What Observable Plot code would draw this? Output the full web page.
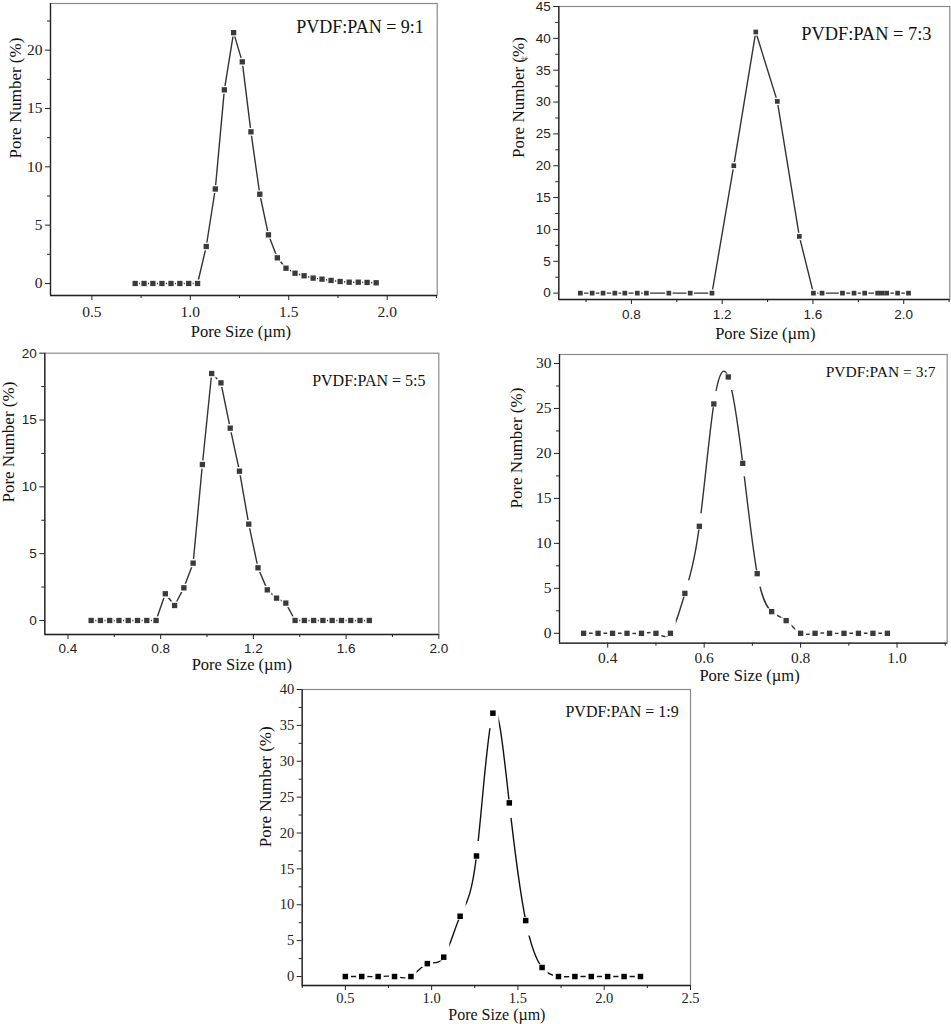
<!DOCTYPE html>
<html><head><meta charset="utf-8">
<script src="https://cdn.jsdelivr.net/npm/d3@7"></script>
<script src="https://cdn.jsdelivr.net/npm/@observablehq/plot@0.6"></script>
<style>
body{margin:0;background:#fff}
#wrap{position:relative;width:951px;height:1024px;overflow:hidden;background:#fff}
#wrap svg{position:absolute;overflow:visible;max-width:none}
</style>
</head><body><div id="wrap"></div>
<script>
const serif = "'Liberation Serif','Times New Roman',serif";
const sans = "'Liberation Sans',Arial,sans-serif";

// ---- data (pore size in µm, pore number in %) ----
const labels = ["PVDF:PAN = 9:1", "PVDF:PAN = 7:3", "PVDF:PAN = 5:5", "PVDF:PAN = 3:7", "PVDF:PAN = 1:9"];
const xTitle = "Pore Size (µm)";
const yTitle = "Pore Number (%)";

const p1Size = [0.72,0.765,0.81,0.856,0.902,0.947,0.992,1.037,1.081,1.127,1.173,1.22,1.264,1.308,1.353,1.397,1.442,1.486,1.532,1.578,1.624,1.669,1.715,1.761,1.807,1.853,1.898,1.944];
const p1Number = [0,0,0,0,0,0,0,0,3.17,8.1,16.6,21.5,19.0,13.0,7.65,4.17,2.2,1.31,0.88,0.66,0.46,0.37,0.26,0.17,0.11,0.11,0.09,0.06];

const p2Size = [0.575,0.627,0.675,0.727,0.771,0.826,0.866,0.965,1.059,1.155,1.251,1.348,1.443,1.540,1.602,1.640,1.730,1.781,1.828,1.885,1.905,1.925,1.973,2.021];
const p2Number = [0,0,0,0,0,0,0,0,0,0,20.0,41.0,30.1,8.9,0,0,0,0,0,0,0,0,0,0];

const p3Size = [0.50,0.54,0.58,0.62,0.66,0.70,0.74,0.78,0.82,0.86,0.90,0.94,0.98,1.02,1.06,1.10,1.14,1.18,1.22,1.26,1.30,1.34,1.38,1.42,1.46,1.50,1.54,1.58,1.62,1.66,1.70];
const p3Number = [0,0,0,0,0,0,0,0,2.0,1.12,2.44,4.29,11.67,18.48,17.78,14.39,11.17,7.21,3.94,2.29,1.67,1.30,0,0,0,0,0,0,0,0,0];

const p4Size = [0.35,0.38,0.41,0.44,0.47,0.50,0.53,0.56,0.59,0.62,0.65,0.68,0.71,0.74,0.77,0.80,0.83,0.86,0.89,0.92,0.95,0.98];
const p4Number = [0,0,0,0,0,0,0,4.44,11.9,25.5,28.5,18.9,6.63,2.41,1.41,0,0,0,0,0,0,0];

const p5Size = [0.50,0.595,0.69,0.785,0.88,0.975,1.07,1.165,1.26,1.355,1.45,1.545,1.64,1.735,1.83,1.925,2.02,2.115,2.21];
const p5Number = [0,0,0,0,0,1.8,2.7,8.4,16.8,36.7,24.2,7.8,1.26,0,0,0,0,0,0];

// ---- tick values ----
const p1XMajor = [0.5,1.0,1.5,2.0], p1XMinor = [0.75,1.25,1.75,2.25];
const p1YMajor = [0,5,10,15,20], p1YMinor = [2.5,7.5,12.5,17.5,22.5];
const p2XMajor = [0.8,1.2,1.6,2.0], p2XMinor = [0.6,1.0,1.4,1.8,2.2];
const p2YMajor = [0,5,10,15,20,25,30,35,40,45], p2YMinor = [2.5,7.5,12.5,17.5,22.5,27.5,32.5,37.5,42.5];
const p3XMajor = [0.4,0.8,1.2,1.6,2.0], p3XMinor = [0.6,1.0,1.4,1.8];
const p3YMajor = [0,5,10,15,20], p3YMinor = [2.5,7.5,12.5,17.5];
const p4XMajor = [0.4,0.6,0.8,1.0], p4XMinor = [0.5,0.7,0.9,1.1];
const p4YMajor = [0,5,10,15,20,25,30], p4YMinor = [2.5,7.5,12.5,17.5,22.5,27.5];
const p5XMajor = [0.5,1.0,1.5,2.0,2.5], p5XMinor = [0.25,0.75,1.25,1.75,2.25];
const p5YMajor = [0,5,10,15,20,25,30,35,40], p5YMinor = [2.5,7.5,12.5,17.5,22.5,27.5,32.5,37.5];

// white "gap to symbol" shapes (Origin style): symmetric, or extended along the path after the marker
function rectSymbol(x0, x1, y0, y1) {
  return {draw(ctx) { ctx.moveTo(x0, y0); ctx.lineTo(x1, y0); ctx.lineTo(x1, y1); ctx.lineTo(x0, y1); ctx.closePath(); }};
}

function panel(o) {
  const data = o.size.map((x, i) => ({x, y: o.number[i], next: i + 1 < o.number.length ? o.number[i + 1] : o.number[i]}));
  const axisCol = "#222";
  const h = o.halo, t = o.tail || h;
  const flat = data.filter(d => !o.tail || Math.abs(d.next - d.y) < 0.05);
  const up = o.tail ? data.filter(d => d.next - d.y >= 0.05) : [];
  const down = o.tail ? data.filter(d => d.y - d.next >= 0.05) : [];
  const marks = [
    Plot.frame({stroke: "#8a8a8a", strokeWidth: 1.2}),
    Plot.ruleX([o.xDomain[0]], {stroke: axisCol, strokeWidth: 1.3}),
    Plot.ruleY([o.yDomain[0]], {stroke: axisCol, strokeWidth: 1.3}),
    Plot.axisX(o.xMajor, {anchor: "bottom", tickSize: 5, tickPadding: o.xPad, tickFormat: d3.format(".1f"),
      fontSize: o.tickSize, fontFamily: o.tickFamily, fill: axisCol, stroke: axisCol, label: null}),
    Plot.axisX(o.xMinor, {anchor: "bottom", tickSize: 3, fill: "none", stroke: axisCol, label: null}),
    Plot.axisY(o.yMajor, {anchor: "left", tickSize: 5, tickPadding: 3, tickFormat: d3.format("d"),
      fontSize: o.tickSize, fontFamily: o.tickFamily, fill: axisCol, stroke: axisCol, label: null}),
    Plot.axisY(o.yMinor, {anchor: "left", tickSize: 3, fill: "none", stroke: axisCol, label: null}),
    Plot.line(data, {x: "x", y: "y", stroke: o.lineColor, strokeWidth: 1.4, curve: o.curve}),
    Plot.dot(flat, {x: "x", y: "y", symbol: rectSymbol(-h, h, -h, h), fill: "white", stroke: "none"}),
    Plot.dot(up, {x: "x", y: "y", symbol: rectSymbol(-h, h, -t, h * 0.6), fill: "white", stroke: "none"}),
    Plot.dot(down, {x: "x", y: "y", symbol: rectSymbol(-h, h, -h * 0.6, t), fill: "white", stroke: "none"}),
    Plot.dot(data, {x: "x", y: "y", symbol: "square", r: o.r, fill: o.markColor, stroke: "none"}),
    Plot.text([o.label], {text: d => d, frameAnchor: "top-right", textAnchor: "end", lineAnchor: "bottom",
      dx: o.labelDx, dy: o.labelDy, fontSize: o.labelSize, fontFamily: serif, fill: "#111"}),
    Plot.text([xTitle], {text: d => d, frameAnchor: "bottom", lineAnchor: "middle",
      dx: o.xtDx, dy: o.xtDy, fontSize: o.xtSize || 16.5, fontFamily: serif, fill: "#111"}),
    Plot.text([yTitle], {text: d => d, frameAnchor: "left", lineAnchor: "middle", rotate: -90,
      dx: o.ytDx, dy: o.ytDy, fontSize: 17, fontFamily: serif, fill: "#111"})
  ];
  if (o.extra) marks.push(o.extra);
  const svg = Plot.plot({
    width: o.w, height: o.h,
    marginLeft: o.ml, marginRight: o.mr, marginTop: o.mt, marginBottom: o.mb,
    x: {domain: o.xDomain, label: null},
    y: {domain: o.yDomain, label: null},
    style: {background: "transparent", overflow: "visible"},
    marks
  });
  svg.style.left = o.left + "px";
  svg.style.top = o.top + "px";
  document.getElementById("wrap").appendChild(svg);
}

// Panel 1: 9:1
panel({size: p1Size, number: p1Number, label: labels[0],
  left: 0, top: 0, w: 475, h: 340, ml: 50, mr: 38.3, mt: 3, mb: 45,
  xDomain: [0.29, 2.254], yDomain: [-1.03, 24],
  xMajor: p1XMajor, xMinor: p1XMinor, yMajor: p1YMajor, yMinor: p1YMinor,
  tickSize: 15.5, tickFamily: serif, xPad: 5,
  lineColor: "#333", markColor: "#3a3a3a", curve: "linear", r: 3, halo: 3.9,
  labelDx: -13.4, labelDy: 29, labelSize: 18,
  xtDx: -3, xtDy: 36, ytDx: -35, ytDy: 9});

// Panel 2: 7:3
panel({size: p2Size, number: p2Number, label: labels[1],
  left: 505, top: 0, w: 446, h: 340, ml: 53.3, mr: 1.7, mt: 6, mb: 41,
  xDomain: [0.48, 2.203], yDomain: [-1, 45],
  xMajor: p2XMajor, xMinor: p2XMinor, yMajor: p2YMajor, yMinor: p2YMinor,
  tickSize: 13.5, tickFamily: sans, xPad: 5,
  lineColor: "#333", markColor: "#3a3a3a", curve: "linear", r: 2.65, halo: 3.7,
  labelDx: -18.3, labelDy: 33, labelSize: 18.4,
  xtDx: 11, xtDy: 34, ytDx: -40.3, ytDy: 5,
  extra: Plot.text(["‡"], {text: d => d, frameAnchor: "top-left", dx: -38, dy: 54, rotate: -90,
    fontSize: 9, fontFamily: serif, fill: "#555"})});

// Panel 3: 5:5
panel({size: p3Size, number: p3Number, label: labels[2],
  left: 0, top: 340, w: 475, h: 340, ml: 44.3, mr: 36.7, mt: 12.7, mb: 46,
  xDomain: [0.3, 2.0], yDomain: [-1.05, 20],
  xMajor: p3XMajor, xMinor: p3XMinor, yMajor: p3YMajor, yMinor: p3YMinor,
  tickSize: 13.5, tickFamily: sans, xPad: 4,
  lineColor: "#333", markColor: "#3a3a3a", curve: "linear", r: 3, halo: 4.1,
  labelDx: -13.3, labelDy: 32.3, labelSize: 16,
  xtDx: 0, xtDy: 30.5, ytDx: -36, ytDy: 8.7});

// Panel 4: 3:7
panel({size: p4Size, number: p4Number, label: labels[3],
  left: 505, top: 340, w: 446, h: 340, ml: 54, mr: 4.3, mt: 14, mb: 37.3,
  xDomain: [0.3, 1.104], yDomain: [-1.1, 31],
  xMajor: p4XMajor, xMinor: p4XMinor, yMajor: p4YMajor, yMinor: p4YMinor,
  tickSize: 15.5, tickFamily: serif, xPad: 3.5,
  lineColor: "#333", markColor: "#3a3a3a", curve: "natural", r: 3, halo: 5.4, tail: 13,
  labelDx: -11.7, labelDy: 22, labelSize: 15.5,
  xtDx: -3.8, xtDy: 32.5, ytDx: -43.3, ytDy: 9.7});

// Panel 5: 1:9
panel({size: p5Size, number: p5Number, label: labels[4],
  left: 240, top: 680, w: 480, h: 344, ml: 61.7, mr: 30, mt: 9, mb: 39,
  xDomain: [0.25, 2.5], yDomain: [-1.25, 40],
  xMajor: p5XMajor, xMinor: p5XMinor, yMajor: p5YMajor, yMinor: p5YMinor,
  tickSize: 14.5, tickFamily: serif, xPad: 2.5,
  lineColor: "#111", markColor: "#000", curve: "natural", r: 3.1, halo: 5.6, tail: 15,
  labelDx: -11.7, labelDy: 27.7, labelSize: 16,
  xtDx: 0.5, xtDy: 29.3, xtSize: 16, ytDx: -36.7, ytDy: 9.7});
</script>
</body></html>
